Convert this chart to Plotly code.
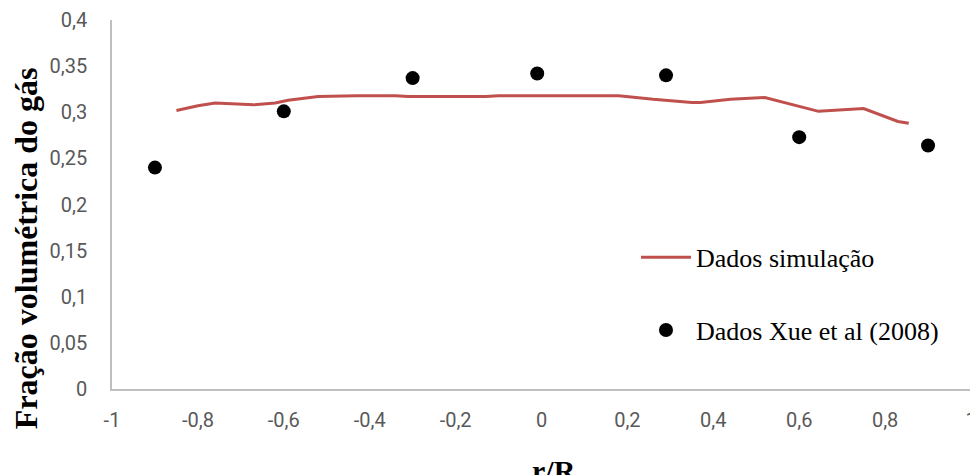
import plotly.graph_objects as go

# Simulation data (line)
sim_x = [-0.85, -0.80, -0.76, -0.72, -0.67, -0.62, -0.59, -0.52, -0.43, -0.34, -0.31,
         -0.13, -0.10, 0.18, 0.26, 0.35, 0.37, 0.44, 0.50, 0.52, 0.645, 0.675, 0.75, 0.83, 0.855]
sim_y = [0.302, 0.307, 0.310, 0.309, 0.308, 0.310, 0.313, 0.317, 0.318, 0.318, 0.317,
         0.317, 0.318, 0.318, 0.314, 0.3105, 0.3105, 0.314, 0.316, 0.316, 0.301, 0.302, 0.304, 0.290, 0.288]

# Experimental data (Xue et al 2008)
exp_x = [-0.90, -0.60, -0.30, -0.01, 0.29, 0.60, 0.90]
exp_y = [0.240, 0.301, 0.337, 0.342, 0.340, 0.273, 0.264]

x_tickvals = [-1, -0.8, -0.6, -0.4, -0.2, 0, 0.2, 0.4, 0.6, 0.8, 1]
x_ticktext = ["-1", "-0,8", "-0,6", "-0,4", "-0,2", "0", "0,2", "0,4", "0,6", "0,8", "1"]
y_tickvals = [0, 0.05, 0.1, 0.15, 0.2, 0.25, 0.3, 0.35, 0.4]
y_ticktext = ["0", "0,05", "0,1", "0,15", "0,2", "0,25", "0,3", "0,35", "0,4"]

fig = go.Figure()
fig.add_trace(go.Scatter(
    x=sim_x, y=sim_y, mode="lines", name="Dados simulação",
    line=dict(color="#C0504D", width=3), legendgroup="a"))
fig.add_trace(go.Scatter(
    x=exp_x, y=exp_y, mode="markers", name="Dados Xue et al (2008)",
    marker=dict(color="black", size=14), legendgroup="b"))

tickfont = dict(family="Roboto", size=20, color="#595959")
fig.update_xaxes(range=[-1, 1], tickvals=x_tickvals, ticktext=x_ticktext,
                 showgrid=False, zeroline=False, showline=True, automargin=False,
                 linecolor="#BFBFBF", linewidth=1.5, ticks="",
                 tickfont=tickfont, ticklabelstandoff=12, ticklabeloverflow="allow")
fig.update_yaxes(range=[0, 0.4], tickvals=y_tickvals, ticktext=y_ticktext,
                 showgrid=False, zeroline=False, showline=True, automargin=False,
                 linecolor="#BFBFBF", linewidth=1.5, ticks="",
                 tickfont=tickfont, ticklabelstandoff=19, ticklabeloverflow="allow")

# page body has an 8px margin, so the figure is sized/offset to compensate
fig.update_layout(
    width=970, height=467,
    margin=dict(l=104, r=7, t=12, b=86, autoexpand=False),
    plot_bgcolor="white", paper_bgcolor="white",
    showlegend=True,
    legend=dict(x=0.61, y=0.258, xanchor="left", yanchor="middle",
                font=dict(family="Liberation Serif", size=26, color="black"),
                bgcolor="rgba(0,0,0,0)", tracegroupgap=36, itemwidth=50,
                traceorder="grouped"),
    annotations=[
        dict(text="<b>Fração volumétrica do gás</b>", xref="paper", yref="paper",
             x=-0.1, y=0.382, xanchor="center", yanchor="middle", textangle=-90,
             showarrow=False, font=dict(family="Liberation Serif", size=32, color="black")),
        dict(text="<b>r/R</b>", xref="paper", yref="paper",
             x=0.515, y=-0.222, xanchor="center", yanchor="middle",
             showarrow=False, font=dict(family="Liberation Serif", size=30, color="black")),
    ],
)

fig.write_html("out.html")
